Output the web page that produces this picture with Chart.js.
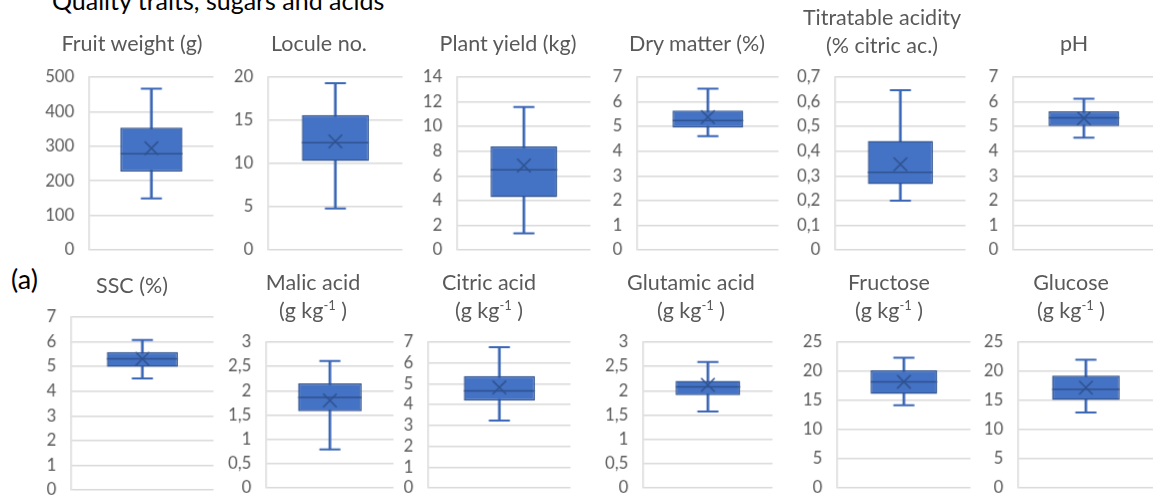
<!DOCTYPE html>
<html><head><meta charset="utf-8">
<script src="https://cdn.jsdelivr.net/npm/chart.js@4.4.1/dist/chart.umd.min.js"></script>
<style>
html,body{margin:0;padding:0;background:#fff;width:1153px;height:497px;overflow:hidden;position:relative;font-family:Lato,sans-serif}
canvas{position:absolute}
.t{position:absolute;transform:translateX(-50%);white-space:nowrap;color:#595959;font-size:21.5px;line-height:28px;text-align:center}
.sup{font-size:13px;position:relative;top:-8px}
#main{position:absolute;left:52px;top:-15px;font-size:25px;color:#000;white-space:nowrap}
#lab{position:absolute;left:11px;top:262px;font-size:27px;color:#000}
</style></head><body>
<div id="main">Quality traits, sugars and acids</div>
<div id="lab">(a)</div>
<script>
// ---- data ----
const categories = ['A'];
const panelTitles = [
  ['Fruit weight (g)'], ['Locule no.'], ['Plant yield (kg)'], ['Dry matter (%)'],
  ['Titratable acidity', '(% citric ac.)'], ['pH'],
  ['SSC (%)'], ['Malic acid', '(g kg<span class="sup">-1</span> )'], ['Citric acid', '(g kg<span class="sup">-1</span> )'],
  ['Glutamic acid', '(g kg<span class="sup">-1</span> )'], ['Fructose', '(g kg<span class="sup">-1</span> )'], ['Glucose', '(g kg<span class="sup">-1</span> )']
];
const minVals    = [149, 4.8, 1.35, 4.61, 0.200, 4.55, 4.52, 0.79, 3.24, 1.57, 14.2, 12.95];
const q1Vals     = [227, 10.3, 4.27, 4.95, 0.267, 5.01, 4.98, 1.58, 4.19, 1.91, 16.1, 15.1];
const medianVals = [278, 12.4, 6.49, 5.24, 0.314, 5.35, 5.31, 1.86, 4.66, 2.08, 18.2, 16.9];
const meanVals   = [294, 12.55, 6.84, 5.38, 0.347, 5.33, 5.31, 1.80, 4.82, 2.12, 18.2, 17.2];
const q3Vals     = [354, 15.6, 8.38, 5.64, 0.441, 5.61, 5.58, 2.15, 5.37, 2.20, 20.15, 19.25];
const maxVals    = [466, 19.3, 11.57, 6.53, 0.647, 6.12, 6.07, 2.61, 6.75, 2.59, 22.3, 21.97];
const axisMax    = [500, 20, 14, 7, 0.7, 7, 7, 3, 7, 3, 25, 25];
const axisStep   = [100, 5, 2, 1, 0.1, 1, 1, 0.5, 1, 0.5, 5, 5];

// ---- layout (plot area: left, top, right, bottom) ----
const plotBoxes = [
  [89,77,213,250],[268,77,402,250],[457,77,590,250],[637,77,778,250],[835,77,965,250],[1013,77,1154,250],
  [71,317,213,490],[266,342,393,488],[428,342,570,488],[643,342,772,488],[837,342,970,488],[1018,342,1153,488]
];
const titleX = [132,319,508,697,882,1074, 132,313,489,691,889,1071];
const titleTop = [28.5,28.5,28.5,28.5,2.5,28.5, 270.5,267.5,267.5,267.5,267.5,267.5];

const AXW = 60;
const BOX = '#4472C4', DARK = '#2F528F', WHISK = '#3A66B6', GRID = '#D9D9D9';
Chart.defaults.font.family = 'Lato, sans-serif';

const fmt = v => (Math.round(v * 1000) / 1000).toString().replace('.', ',');

function makeCfg(i) {
  return {
    type: 'bar',
    data: {
      labels: categories,
      datasets: [
        { type: 'bar', data: [[minVals[i], maxVals[i]]], backgroundColor: WHISK, borderWidth: 0,
          barThickness: 2, grouped: false, order: 5 },
        { type: 'bar', data: [[q1Vals[i], q3Vals[i]]], backgroundColor: BOX, borderColor: DARK,
          borderWidth: 1.5, borderSkipped: false, barPercentage: 0.5, categoryPercentage: 1,
          grouped: false, order: 4 },
        { type: 'line', data: [{x: 'A', y: minVals[i]}, {x: 'A', y: maxVals[i]}], showLine: false,
          pointStyle: 'line', pointRadius: 10.5, pointBorderColor: WHISK, pointBorderWidth: 2, order: 3 },
        { type: 'line', data: [{x: 'A', y: medianVals[i]}], showLine: false, pointStyle: 'line',
          pointRadius: ctx => ctx.chart.chartArea ? ctx.chart.chartArea.width * 0.25 : 0,
          pointBorderColor: DARK, pointBorderWidth: 1.5, order: 2 },
        { type: 'line', data: [{x: 'A', y: meanVals[i]}], showLine: false, pointStyle: 'crossRot',
          pointRadius: 9.5, pointBorderColor: DARK, pointBorderWidth: 1.5, order: 1 }
      ]
    },
    options: {
      responsive: false, maintainAspectRatio: false, animation: false, events: [],
      layout: { padding: 0 },
      plugins: { legend: { display: false }, tooltip: { enabled: false }, title: { display: false } },
      scales: {
        x: { display: false },
        y: {
          min: 0, max: axisMax[i],
          ticks: { stepSize: axisStep[i], autoSkip: false, callback: v => fmt(v), color: '#595959',
                   font: { size: 16.5 }, padding: 15 },
          grid: { color: GRID, lineWidth: 1.5, drawTicks: false },
          border: { color: GRID, width: 1.5 },
          afterFit: s => { s.width = AXW; }
        }
      }
    }
  };
}

function setSize(cv, w, h, x, y) {
  cv.width = w; cv.height = h;
  cv.style.width = w + 'px'; cv.style.height = h + 'px';
  cv.style.left = x + 'px'; cv.style.top = y + 'px';
}

plotBoxes.forEach((b, i) => {
  const [l, t, r, btm] = b;
  const cv = document.createElement('canvas');
  document.body.appendChild(cv);
  const w0 = r - l + AXW, h0 = btm - t + 30;
  setSize(cv, w0, h0, l - AXW, t - 15);
  let ch = new Chart(cv, makeCfg(i));
  const ca = ch.chartArea;
  const offT = ca.top, offB = h0 - ca.bottom, offL = ca.left, offR = w0 - ca.right;
  ch.destroy();
  setSize(cv, (r - l) + offL + offR, (btm - t) + offT + offB, l - offL, t - offT);
  new Chart(cv, makeCfg(i));

  const td = document.createElement('div');
  td.className = 't';
  td.style.left = titleX[i] + 'px';
  td.style.top = titleTop[i] + 'px';
  td.innerHTML = panelTitles[i].join('<br>');
  document.body.appendChild(td);
});
</script>
</body></html>
